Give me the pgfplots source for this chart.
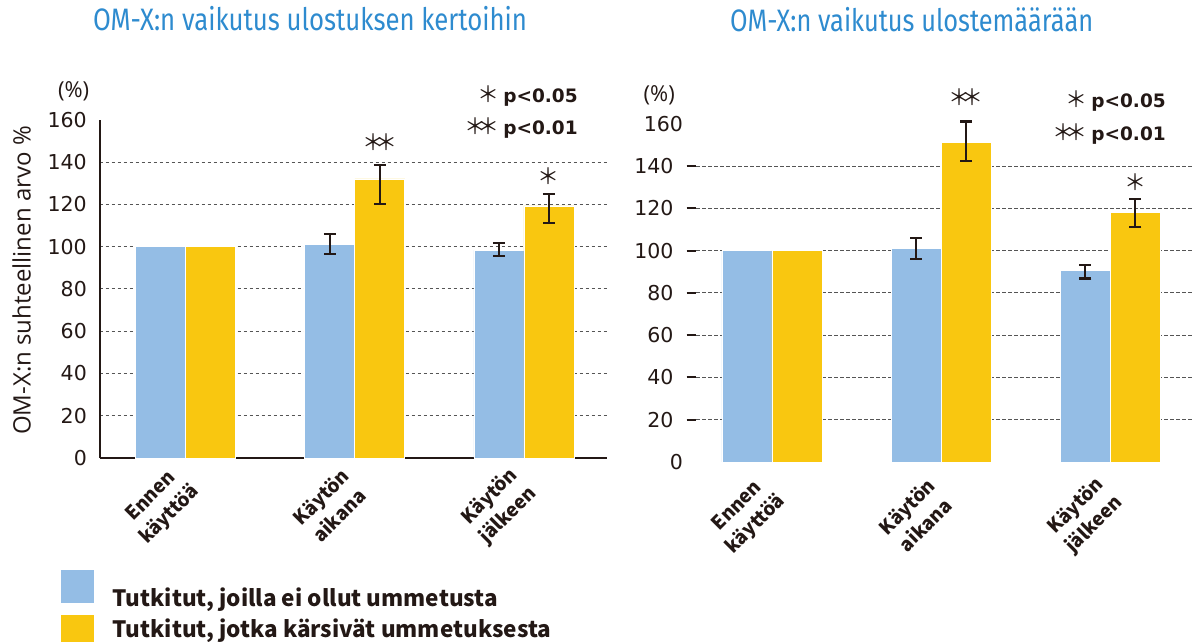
\documentclass[border=0pt]{standalone}
\usepackage{pgfplots}
\pgfplotsset{compat=1.18}
\usepackage{pgfplotstable}
\usepackage{graphicx}
\usepackage{fontspec}
\setmainfont{Open Sans}
\newfontfamily\numfont{DejaVu Sans}
\newfontfamily\jpfont{Noto Sans CJK JP}
\newfontfamily\titlefont{Fira Sans}
\definecolor{barblue}{HTML}{94BDE5}
\definecolor{baryellow}{HTML}{F9C710}
\definecolor{titleblue}{HTML}{2E8BCF}
\definecolor{ink}{HTML}{231815}
\definecolor{gridgray}{HTML}{555555}

% left chart: number of defecations
\pgfplotstableread{
x y
0 100
1 101.3
2 98.3
}\Lblue
\pgfplotstableread{
x y
0 100
1 132.1
2 119.3
}\Lyellow
\pgfplotstableread{
x y ep em
1 101.3 4.7 4.7
2 98.3 3.5 2.7
}\Lblueerr
\pgfplotstableread{
x y ep em
1 132.1 6.7 11.9
2 119.3 5.5 7.9
}\Lyellowerr
% right chart: amount of stool
\pgfplotstableread{
x y
0 100
1 101.2
2 90.8
}\Rblue
\pgfplotstableread{
x y
0 100
1 151.3
2 118.2
}\Ryellow
\pgfplotstableread{
x y ep em
1 101.2 4.8 5.2
2 90.8 2.5 3.9
}\Rblueerr
\pgfplotstableread{
x y ep em
1 151.3 9.9 8.7
2 118.2 6.3 7.1
}\Ryellowerr

\pgfplotsset{
  mybars/.style={
    ybar, bar width=50bp,
    scale only axis,
    height=338bp,
    ymin=0, ymax=160,
    ytick={20,40,...,140},
    extra y ticks={0,160},
    extra y tick style={grid=none, major tick length=0pt},
    ymajorgrids=true,
    major grid style={draw=gridgray, dash pattern=on 3.5bp off 2.5bp, line width=1bp},
    xtick={0,1,2},
    xticklabels={{Ennen\\käyttöä},{Käytön\\aikana},{Käytön\\jälkeen}},
    xtick style={draw=none},
    /pgf/number format/assume math mode=true,
    yticklabel style={font=\numfont\fontsize{20.5bp}{24bp}\selectfont, text=ink, inner sep=0pt, anchor=east},
    clip=false,
  },
  errstyle/.style={forget plot, draw=none, fill=none,
    error bars/y dir=both, error bars/y explicit,
    error bars/error bar style={draw=ink, line width=2.2bp, solid},
    error bars/error mark options={rotate=90, mark size=6bp, line width=2.2bp, draw=ink, solid}},
}

\newcommand{\cjkstar}{{\jpfont\fontsize{22bp}{22bp}\selectfont ＊}}
\newcommand{\cjkstars}{{\jpfont\fontsize{22bp}{22bp}\selectfont ＊\kern-9bp＊}}
\newcommand{\pfont}{\numfont\bfseries\fontsize{18.5bp}{22bp}\selectfont}

\begin{document}
\begin{tikzpicture}
\useasboundingbox (0,0) rectangle (1192bp,642bp);

% ---------------- left chart ----------------
\begin{axis}[mybars,
  at={(99.5bp,184bp)}, anchor=south west,
  width=507.5bp,
  xmin=-0.510, xmax=2.491,
  axis x line*=bottom, axis y line*=left,
  axis line style={draw=ink, line width=2bp},
  major tick length=0pt,
  yticklabel style={xshift=-12.5bp},
  xticklabel style={font=\jpfont\bfseries\fontsize{19bp}{26bp}\selectfont, text=ink, align=center, anchor=center, inner sep=0pt, xshift=-25bp, yshift=-48bp, rotate=45},
  title={\resizebox{434bp}{\height}{OM-X:n vaikutus ulostuksen kertoihin}},
  title style={at={(axis description cs:0.4148,1.2485)}, anchor=base, text=titleblue, font=\titlefont\fontsize{31bp}{36bp}\selectfont, inner sep=0pt},
  ylabel={OM-X:n suhteellinen arvo \%},
  ylabel style={at={(axis description cs:-0.1533,0.5251)}, anchor=center, font=\fontsize{24bp}{28bp}\selectfont, text=ink, inner sep=0pt},
  legend style={at={(axis description cs:-0.07586,-0.38964)}, anchor=north west, draw=none, fill=none, inner sep=0pt, outer sep=0pt, column sep=18.7bp, row sep=9.3bp, font=\jpfont\bfseries\fontsize{22.5bp}{27bp}\selectfont, text=ink, nodes={inner sep=0pt, text height=17bp, text depth=5bp}},
  legend cell align=left,
]
\addplot[fill=barblue, draw=white, line width=0.8bp, bar shift=-25bp,
  legend image code/.code={\path (0bp,0bp) rectangle (32bp,0bp); \fill[barblue, overlay] (0bp,-1.3bp) rectangle (32bp,30.7bp);}]
  table[x=x, y=y] {\Lblue};
\addlegendentry{Tutkitut, joilla ei ollut ummetusta}
\addplot[fill=baryellow, draw=white, line width=0.8bp, bar shift=25bp,
  legend image code/.code={\path (0bp,0bp) rectangle (32bp,0bp); \fill[baryellow, overlay] (0bp,-15bp) rectangle (32bp,17bp);}]
  table[x=x, y=y] {\Lyellow};
\addlegendentry{Tutkitut, jotka kärsivät ummetuksesta}
\addplot[bar shift=-25bp, errstyle] table[x=x, y=y, y error plus=ep, y error minus=em] {\Lblueerr};
\addplot[bar shift=25bp, errstyle] table[x=x, y=y, y error plus=ep, y error minus=em] {\Lyellowerr};

\node[inner sep=0pt, text=ink, xshift=25bp] at (axis cs:1,149.3) {\cjkstars};
\node[inner sep=0pt, text=ink, xshift=25bp] at (axis cs:2,133.2) {\cjkstar};
\node[inner sep=0pt, text=ink, anchor=base east] at (axis cs:2.319,168.2) {\cjkstar\hspace{4bp}{\pfont p<0.05}};
\node[inner sep=0pt, text=ink, anchor=base east] at (axis cs:2.319,152.9) {\cjkstars\hspace{4bp}{\pfont p<0.01}};
\node[inner sep=0pt, text=ink, font=\fontsize{22bp}{24bp}\selectfont] at (axis cs:-0.663,173.4) {(\%)};
\end{axis}

% ---------------- right chart ----------------
\begin{axis}[mybars,
  at={(696bp,180bp)}, anchor=south west,
  width=496bp,
  xmin=-0.449, xmax=2.483,
  axis x line*=bottom, axis y line*=left,
  axis line style={draw=none},
  ytick style={draw=ink, line width=2bp},
  major tick length=9.5bp, tick align=outside,
  yticklabel style={xshift=-12.9bp},
  xticklabel style={font=\jpfont\bfseries\fontsize{19bp}{26bp}\selectfont, text=ink, align=center, anchor=center, inner sep=0pt, xshift=-25bp, yshift=-44bp, rotate=45},
  title={\resizebox{363bp}{\height}{OM-X:n vaikutus ulostemäärään}},
  title style={at={(axis description cs:0.4349,1.2568)}, anchor=base, text=titleblue, font=\titlefont\fontsize{31bp}{36bp}\selectfont, inner sep=0pt},
]
\addplot[fill=barblue, draw=white, line width=0.8bp, bar shift=-25bp] table[x=x, y=y] {\Rblue};
\addplot[fill=baryellow, draw=white, line width=0.8bp, bar shift=25bp] table[x=x, y=y] {\Ryellow};
\addplot[bar shift=-25bp, errstyle] table[x=x, y=y, y error plus=ep, y error minus=em] {\Rblueerr};
\addplot[bar shift=25bp, errstyle] table[x=x, y=y, y error plus=ep, y error minus=em] {\Ryellowerr};

\node[inner sep=0pt, text=ink, xshift=25bp] at (axis cs:1,172.7) {\cjkstars};
\node[inner sep=0pt, text=ink, xshift=25bp] at (axis cs:2,132.4) {\cjkstar};
\node[inner sep=0pt, text=ink, anchor=base east] at (axis cs:2.329,168.0) {\cjkstar\hspace{4bp}{\pfont p<0.05}};
\node[inner sep=0pt, text=ink, anchor=base east] at (axis cs:2.329,152.2) {\cjkstars\hspace{4bp}{\pfont p<0.01}};
\node[inner sep=0pt, text=ink, font=\fontsize{22bp}{24bp}\selectfont] at (axis cs:-0.666,173.5) {(\%)};
\end{axis}
\end{tikzpicture}
\end{document}
